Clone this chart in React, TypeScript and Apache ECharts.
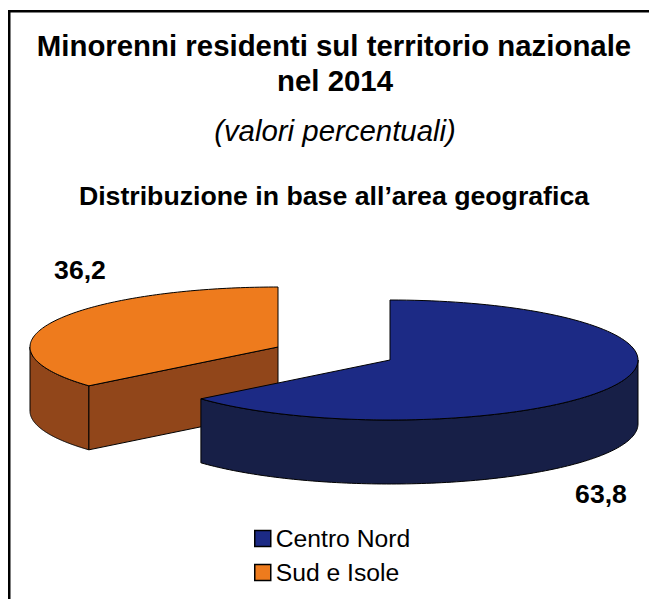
import React, { useEffect, useRef } from "react";
import * as echarts from "echarts";

const categories = ["Centro Nord", "Sud e Isole"];
const values = [63.8, 36.2];
const valueLabels = ["63,8", "36,2"];
const titleLines = ["Minorenni residenti sul territorio nazionale", "nel 2014"];
const subtitle = "(valori percentuali)";
const heading = "Distribuzione in base all\u2019area geografica";

const topColors = ["#1c2a85", "#ee7b1d"];
const wallColors = ["#171f47", "#91461a"];
const apexes = [[390, 360], [278, 347]];
const labelPos = [[601, 494], [80, 270]];
const RX = 248, RY = 60, DEPTH = 64;
const FONT = '"Liberation Sans", Arial, sans-serif';

const total = values.reduce((a, b) => a + b, 0);

function pt(c: number[], turn: number, dy = 0) {
  const a = turn * 2 * Math.PI;
  return [c[0] + RX * Math.sin(a), c[1] - RY * Math.cos(a) + dy];
}
function arc(c: number[], from: number, to: number, dy = 0) {
  const pts: number[][] = [];
  const n = 120;
  for (let i = 0; i <= n; i++) pts.push(pt(c, from + ((to - from) * i) / n, dy));
  return pts;
}

const line = { stroke: "#000", lineWidth: 1 };

function renderSlice(index: number) {
  return (_params: any, api: any) => {
    const val = api.value(0);
    let start = 0;
    for (let i = 0; i < index; i++) start += values[i] / total;
    const end = start + val / total;
    const c = apexes[index];
    const children: any[] = [];
    const polygon = (points: number[][], fill: string) => ({
      type: "polygon",
      shape: { points },
      style: { fill, ...line },
    });
    const wFrom = Math.max(start, 0.25);
    const wTo = Math.min(end, 0.75);
    if (wTo > wFrom) {
      children.push(
        polygon([...arc(c, wFrom, wTo), ...arc(c, wFrom, wTo, DEPTH).reverse()], wallColors[index])
      );
    }
    if (index === 1) {
      const e = pt(c, start);
      children.push(
        polygon([c, e, [e[0], e[1] + DEPTH], [c[0], c[1] + DEPTH]], wallColors[index])
      );
    }
    children.push(polygon([c, ...arc(c, start, end)], topColors[index]));
    const lp = labelPos[index];
    children.push({
      type: "text",
      style: {
        text: valueLabels[index],
        x: lp[0],
        y: lp[1],
        align: "center",
        verticalAlign: "middle",
        fill: "#000",
        font: `bold 26.6px ${FONT}`,
      },
    });
    return { type: "group", children };
  };
}

export default function App() {
  const ref = useRef<HTMLDivElement>(null);
  useEffect(() => {
    const chart = echarts.init(ref.current!, null, { renderer: "svg" });
    chart.setOption({
      animation: false,
      backgroundColor: "#fff",
      title: [
        { text: titleLines[0], left: 329, top: 26, textAlign: "center", textStyle: { fontFamily: FONT, fontWeight: "bold", fontSize: 29.4, color: "#000" } },
        { text: titleLines[1], left: 330, top: 61, textAlign: "center", textStyle: { fontFamily: FONT, fontWeight: "bold", fontSize: 29.4, color: "#000" } },
        { text: subtitle, left: 330, top: 111, textAlign: "center", textStyle: { fontFamily: FONT, fontWeight: "normal", fontStyle: "italic", fontSize: 29.4, color: "#000" } },
        { text: heading, left: 329, top: 177, textAlign: "center", textStyle: { fontFamily: FONT, fontWeight: "bold", fontSize: 26.7, color: "#000" } },
      ],
      legend: {
        orient: "vertical",
        left: 254,
        top: 526,
        padding: 0,
        icon: "rect",
        selectedMode: false,
        itemWidth: 16,
        itemHeight: 16,
        itemGap: 9,
        data: categories,
        textStyle: { fontFamily: FONT, fontSize: 24.7, color: "#000" },
        itemStyle: { borderColor: "#000", borderWidth: 1.5 },
      },
      graphic: [
        { type: "rect", shape: { x: 8, y: 10, width: 641, height: 2.5 }, style: { fill: "#000" } },
        { type: "rect", shape: { x: 8, y: 10, width: 2.5, height: 589 }, style: { fill: "#000" } },
      ],
      series: [1, 0].map((i) => ({
        type: "custom",
        name: categories[i],
        coordinateSystem: "none",
        itemStyle: { color: topColors[i] },
        data: [[values[i]]],
        renderItem: renderSlice(i),
      })),
    });
    return () => chart.dispose();
  }, []);
  return <div ref={ref} style={{ position: "absolute", left: 0, top: 0, width: 649, height: 599 }} />;
}
